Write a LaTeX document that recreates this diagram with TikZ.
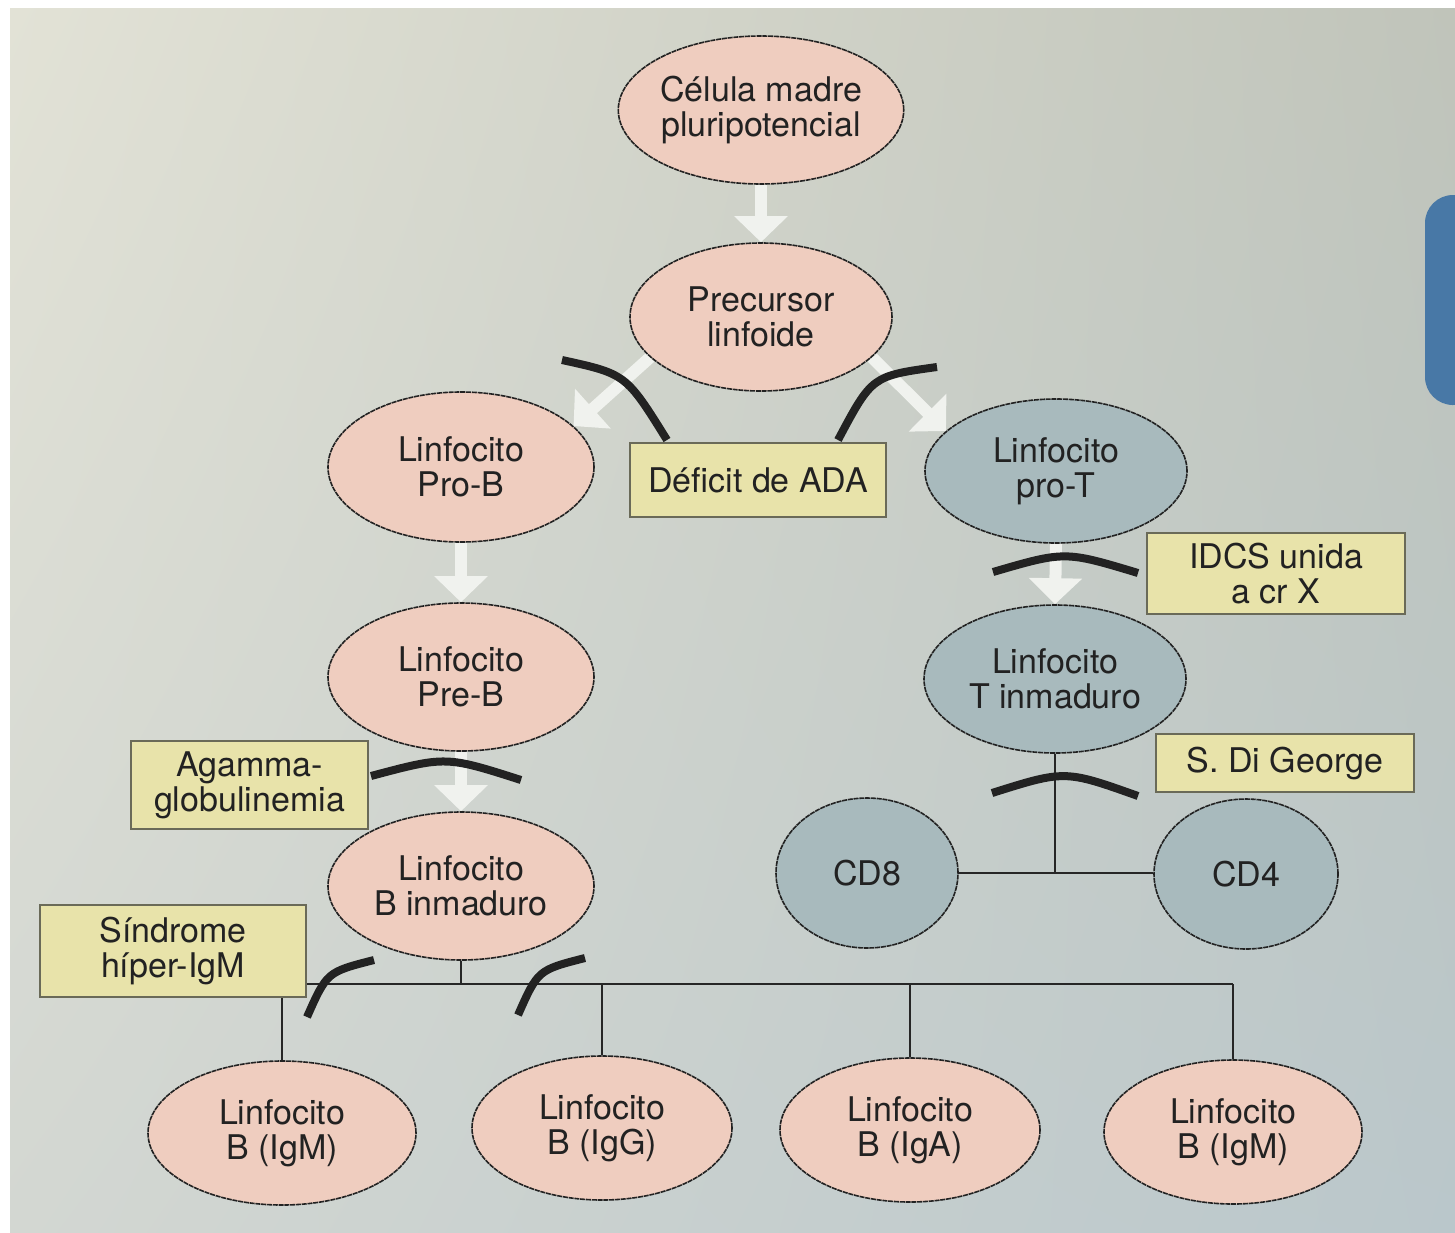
\documentclass[tikz,border=0pt]{standalone}
\usepackage{fontspec}
\setmainfont{TeX Gyre Heros}
\usetikzlibrary{shapes.geometric,arrows.meta,shadings}
\definecolor{pinkc}{HTML}{EFCDBF}
\definecolor{bluec}{HTML}{A8BABD}
\definecolor{boxc}{HTML}{E8E3AA}
\definecolor{boxline}{HTML}{6A6A58}
\definecolor{outl}{HTML}{222222}
\definecolor{txt}{HTML}{222222}
\definecolor{arrw}{HTML}{F0F2EE}
\definecolor{blk}{HTML}{222222}
\definecolor{bgtl}{HTML}{E2E2D6}
\definecolor{bgtr}{HTML}{C0C4BA}
\definecolor{bgbl}{HTML}{D3D7D2}
\definecolor{bgbr}{HTML}{BAC7CB}
\definecolor{tabc}{HTML}{4878A6}
\newcommand{\cellfont}{\fontsize{17}{17.5}\selectfont}
\pgfdeclarelayer{bgl}
\pgfdeclarelayer{edges}
\pgfsetlayers{bgl,edges,main}
\tikzset{
  pinkcell/.style={ellipse, draw=outl, line width=0.8pt, dash pattern=on 2.5pt off 0.4pt,
    fill=pinkc, inner sep=0pt, minimum width=131pt, minimum height=74pt,
    text=txt, font=\cellfont, align=center},
  bluecell/.style={pinkcell, fill=bluec},
  note/.style={rectangle, draw=boxline, line width=0.6pt, fill=boxc, inner sep=0pt,
    text=txt, font=\cellfont, align=center},
  block/.style={line width=4pt, draw=blk},
  wa/.style={line width=6pt, draw=arrw, -{Triangle[width=26pt,length=13pt]}},
  tree/.style={line width=0.7pt, draw=black!85}
}
\begin{document}
\begin{tikzpicture}[x=0.5pt,y=-0.5pt]
\useasboundingbox (0,0) rectangle (1455,1232);
\begin{pgfonlayer}{bgl}
  \fill[white] (0,0) rectangle (1455,1232);
  \shade[upper left=bgtl, upper right=bgtr, lower left=bgbl, lower right=bgbr] (10,8) rectangle (1456,1233);
  \fill[tabc, rounded corners=14pt] (1480,195) -- (1425,195) -- (1425,405) -- (1480,405) -- cycle;
\end{pgfonlayer}

% cells
\node[pinkcell] (cel) at (761,110) {Célula madre\\pluripotencial};
\node[pinkcell] (prec) at (761,317) {Precursor\\linfoide};
\node[pinkcell, minimum width=133pt, minimum height=75pt] (proB) at (461,467) {Linfocito\\Pro-B};
\node[bluecell, minimum height=72pt] (proT) at (1056,471) {Linfocito\\pro-T};
\node[pinkcell, minimum width=133pt] (preB) at (461,677) {Linfocito\\Pre-B};
\node[bluecell] (Tinm) at (1055,679) {Linfocito\\T inmaduro};
\node[pinkcell, minimum width=133pt] (Binm) at (461,886) {Linfocito\\B inmaduro};
\node[bluecell, minimum width=91pt, minimum height=75pt] (cd8) at (867,873) {CD8};
\node[bluecell, minimum width=92pt, minimum height=75pt] (cd4) at (1246,874) {CD4};
\node[pinkcell, minimum width=134pt, minimum height=72pt] (b1) at (282,1133) {Linfocito\\B (IgM)};
\node[pinkcell, minimum width=130pt, minimum height=72pt] (b2) at (602,1128) {Linfocito\\B (IgG)};
\node[pinkcell, minimum width=130pt, minimum height=72pt] (b3) at (910,1130) {Linfocito\\B (IgA)};
\node[pinkcell, minimum width=129pt, minimum height=72pt] (b4) at (1233,1132) {Linfocito\\B (IgM)};

% notes
\node[note, minimum width=128pt, minimum height=37pt] (ada) at (758,480) {Déficit de ADA};
\node[note, minimum width=129pt, minimum height=40.5pt] (idcs) at (1276,573.5) {IDCS unida\\a cr X};
\node[note, minimum width=129pt, minimum height=29pt] (dig) at (1285,763) {S. Di George};
\node[note, minimum width=118.5pt, minimum height=44pt] (aga) at (249.5,785) {Agamma-\\globulinemia};
\node[note, minimum width=133pt, minimum height=46pt] (hig) at (173,951) {Síndrome\\híper-IgM};

\begin{pgfonlayer}{edges}
  \draw[wa] (cel.south) -- (prec.north);
  \draw[wa] (prec.200) -- (proB.20);
  \draw[wa] (prec.340) -- (proT.160);
  \draw[wa] (proB.south) -- (preB.north);
  \draw[wa] (proT.south) -- (Tinm.north);
  \draw[wa] (preB.south) -- (Binm.north);
  \coordinate (bjy) at (0,984);
  \draw[tree] (Binm.south) -- (Binm.south |- bjy);
  \draw[tree] (b1.north |- bjy) -- (b4.north |- bjy);
  \foreach \n in {b1,b2,b3,b4} \draw[tree] (\n.north |- bjy) -- (\n.north);
  \draw[tree] (Tinm.south) -- (Tinm.south |- cd8.east);
  \draw[tree] (cd8.east) -- (cd8.east -| cd4.west);
\end{pgfonlayer}

% blocks
\draw[block] (562,360) .. controls (626,374) .. (667,440);
\draw[block] (937,367) .. controls (872,376) .. (838,440);
\draw[block] (993,572) .. controls (1065,551) .. (1138,573);
\draw[block] (992,793) .. controls (1065,770) .. (1138,796);
\draw[block] (371,776) .. controls (446,756) .. (521,780);
\draw[block] (307,1017) .. controls (327,972) .. (374,960);
\draw[block] (518,1015) .. controls (538,970) .. (585,958);
\end{tikzpicture}
\end{document}
